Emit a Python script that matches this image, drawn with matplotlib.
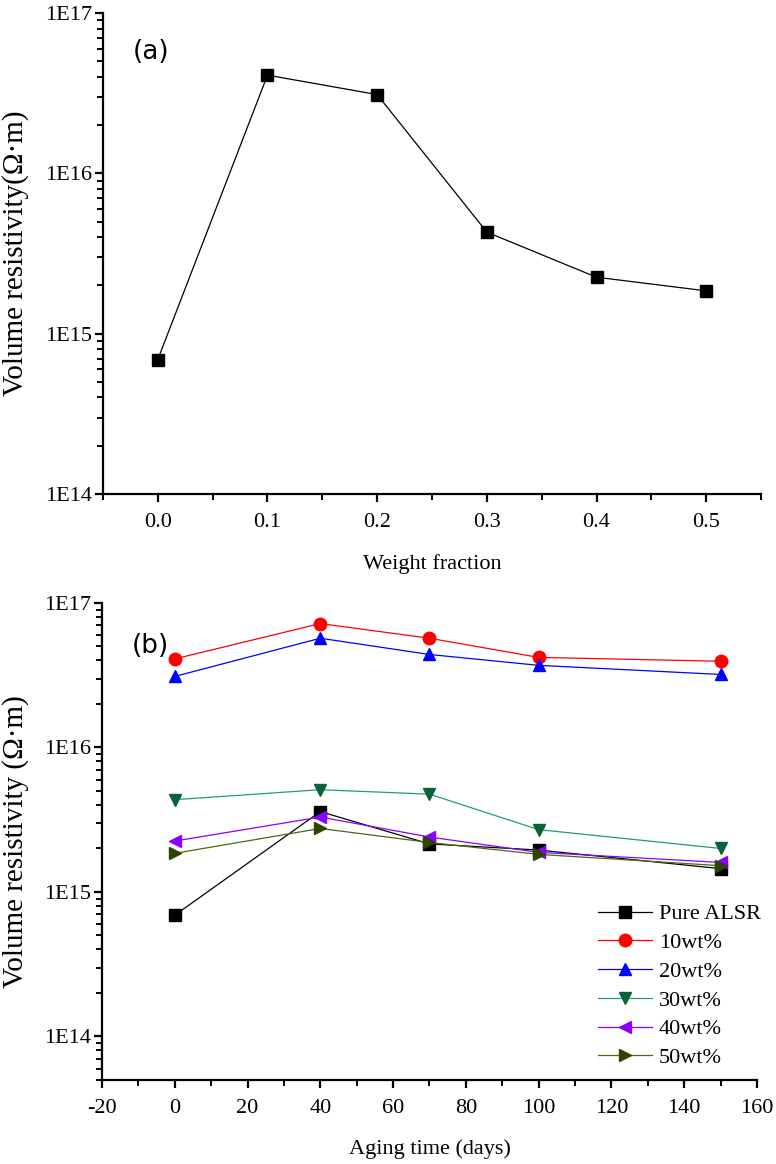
import math
import matplotlib
matplotlib.use("Agg")
import matplotlib.pyplot as plt
from matplotlib.ticker import LogLocator, MultipleLocator, FixedLocator, NullFormatter, FuncFormatter

# (a) resistivity vs weight fraction
weight_fraction = [0.0, 0.1, 0.2, 0.3, 0.4, 0.5]
resistivity_a = [6.9e14, 4.1e16, 3.1e16, 4.3e15, 2.25e15, 1.85e15]

# (b) resistivity vs aging time
aging_days = [0, 40, 70, 100, 150]
series_labels = ["Pure ALSR", "10wt%", "20wt%", "30wt%", "40wt%", "50wt%"]
pure_alsr = [6.9e14, 3.6e15, 2.15e15, 1.95e15, 1.45e15]
wt10 = [4.1e16, 7.2e16, 5.7e16, 4.2e16, 3.95e16]
wt20 = [3.1e16, 5.7e16, 4.4e16, 3.7e16, 3.2e16]
wt30 = [4.35e15, 5.1e15, 4.75e15, 2.7e15, 2.0e15]
wt40 = [2.25e15, 3.3e15, 2.4e15, 1.88e15, 1.6e15]
wt50 = [1.85e15, 2.75e15, 2.2e15, 1.82e15, 1.52e15]

SERIF = "Liberation Serif"
FS = 16
plt.rcParams["axes.unicode_minus"] = False

# line colour, marker colour, marker
styles = [
    ("#000000", "#000000", "s"),
    ("#ff0000", "#ff0000", "o"),
    ("#0000ff", "#0000ff", "^"),
    ("#20a070", "#0b6238", "v"),
    ("#8b00ff", "#8b00ff", "<"),
    ("#4b6b10", "#2e4400", ">"),
]


def exp_label(v, pos):
    return "1E%d" % round(math.log10(v))


def style_axes(ax):
    for side in ["top", "right"]:
        ax.spines[side].set_visible(False)
    for side in ["left", "bottom"]:
        ax.spines[side].set_linewidth(1.6)
    ax.yaxis.set_major_locator(FixedLocator([1e14, 1e15, 1e16, 1e17]))
    ax.yaxis.set_minor_locator(LogLocator(base=10, subs=range(2, 10), numticks=20))
    ax.yaxis.set_major_formatter(FuncFormatter(exp_label))
    ax.yaxis.set_minor_formatter(NullFormatter())
    ax.tick_params(which="major", direction="out", length=6, width=1.6, labelsize=FS, pad=2)
    ax.tick_params(which="minor", direction="out", length=4, width=1.4)
    ax.tick_params(axis="x", which="major", pad=8)
    for lab in ax.get_xticklabels() + ax.get_yticklabels():
        lab.set_fontfamily(SERIF)


fig = plt.figure(figsize=(7.76, 11.64), dpi=100)

ax1 = fig.add_axes([0.1327, 0.5756, 0.848, 0.4132])
ax1.set_yscale("log")
ax1.plot(weight_fraction, resistivity_a, color="black", lw=0.9,
         marker="s", markersize=8.5, markerfacecolor="black", markeredgecolor="black")
ax1.set_xlim(-0.05, 0.55)
ax1.set_ylim(1e14, 1e17)
ax1.xaxis.set_major_locator(FixedLocator([0.0, 0.1, 0.2, 0.3, 0.4, 0.5]))
ax1.xaxis.set_minor_locator(FixedLocator([-0.05, 0.05, 0.15, 0.25, 0.35, 0.45, 0.55]))
ax1.xaxis.set_major_formatter(FuncFormatter(lambda v, p: "%.1f" % v))
style_axes(ax1)
ax1.set_xlabel("Weight fraction", fontfamily=SERIF, fontsize=FS)
ax1.set_ylabel("Volume resistivity(Ω·m)", fontfamily=SERIF, fontsize=21)
ax1.xaxis.set_label_coords(0.5, -0.125)
ax1.yaxis.set_label_coords(-0.112, 0.5)
ax1.text(0.045, 0.919, "(a)", transform=ax1.transAxes, fontsize=19,
         fontfamily="DejaVu Sans", ha="left", va="center")

ax2 = fig.add_axes([0.1314, 0.0722, 0.844, 0.4098])
ax2.set_yscale("log")
all_series = [pure_alsr, wt10, wt20, wt30, wt40, wt50]
for vals, lab, (lc, mc, mk) in zip(all_series, series_labels, styles):
    ax2.plot(aging_days, vals, color=lc, lw=0.9, marker=mk, markersize=9,
             markerfacecolor=mc, markeredgecolor=mc, label=lab)
ax2.set_xlim(-20, 160)
ax2.set_ylim(5e13, 1e17)
ax2.xaxis.set_major_locator(MultipleLocator(20))
ax2.xaxis.set_minor_locator(MultipleLocator(10))
style_axes(ax2)
ax2.set_xlabel("Aging time (days)", fontfamily=SERIF, fontsize=FS)
ax2.set_ylabel("Volume resistivity (Ω·m)", fontfamily=SERIF, fontsize=21)
ax2.xaxis.set_label_coords(0.5, -0.125)
ax2.yaxis.set_label_coords(-0.112, 0.5)
ax2.text(0.045, 0.91, "(b)", transform=ax2.transAxes, fontsize=19,
         fontfamily="DejaVu Sans", ha="left", va="center")
ax2.legend(loc="lower right", bbox_to_anchor=(1.02, 0.006), frameon=False,
           prop={"family": SERIF, "size": FS}, handlelength=2.45,
           labelspacing=0.37, handletextpad=0.3, borderaxespad=0.0)

fig.savefig("out.png", dpi=100)
